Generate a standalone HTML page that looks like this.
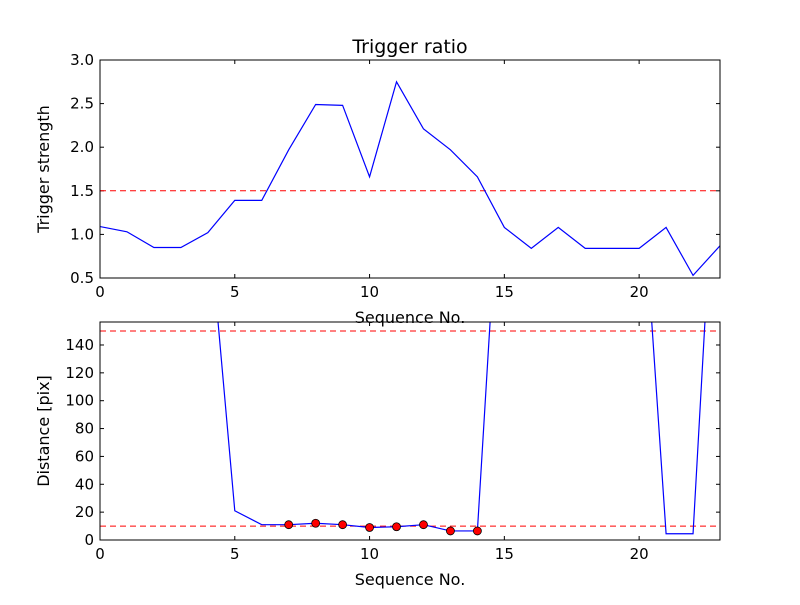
<!DOCTYPE html>
<html><head><meta charset="utf-8"><style>body{margin:0;background:#fff}svg{font-family:"DejaVu Sans","Liberation Sans",sans-serif}</style></head>
<body>
<svg id="chart" width="800" height="600" xmlns="http://www.w3.org/2000/svg">
<rect width="800" height="600" fill="#fff"/>
<defs>
<clipPath id="c1"><rect x="100" y="60" width="620" height="218"/></clipPath>
<clipPath id="c2"><rect x="100" y="322" width="620" height="218"/></clipPath>
</defs>
<g id="g"></g>
</svg>
<script>
const seq = [0,1,2,3,4,5,6,7,8,9,10,11,12,13,14,15,16,17,18,19,20,21,22,23];
const ratio = [1.09,1.03,0.85,0.85,1.02,1.39,1.39,1.97,2.49,2.48,1.66,2.75,2.21,1.97,1.66,1.08,0.84,1.08,0.84,0.84,0.84,1.08,0.53,0.87];
const dist = [400,400,400,400,239,21,11,11,12,11,9,9.5,11,6.5,6.5,325,300,300,300,300,290,4.5,4.5,349];
const hitIdx = [7,8,9,10,11,12,13,14];
const xTicks = [0,5,10,15,20];
const y1Ticks = [0.5,1.0,1.5,2.0,2.5,3.0];
const y2Ticks = [0,20,40,60,80,100,120,140];
const ratioThresh = 1.5;
const distThresh = [10,150];

const NS="http://www.w3.org/2000/svg";
const g=document.getElementById('g');
function el(t,a,p){const e=document.createElementNS(NS,t);for(const k in a)e.setAttribute(k,a[k]);(p||g).appendChild(e);return e;}
const L=100,R=720;
const sx=v=>L+(v-0)/(23-0)*(R-L);
function panel(top,bot,ymin,ymax,yt,fmt,name,ylabel){
  const sy=v=>bot-(v-ymin)/(ymax-ymin)*(bot-top);
  const ax=el('g',{});
  
  
  xTicks.forEach(t=>{const x=sx(t);
    el('line',{x1:x,x2:x,y1:bot,y2:bot-4,stroke:'#000'},ax);
    el('line',{x1:x,x2:x,y1:top,y2:top+4,stroke:'#000'},ax);
    const tx=el('text',{x:x,y:bot+19,'text-anchor':'middle','font-size':15},ax);tx.textContent=t;
    
  });
  yt.forEach(t=>{const y=sy(t);
    el('line',{x1:L,x2:L+4,y1:y,y2:y,stroke:'#000'},ax);
    el('line',{x1:R,x2:R-4,y1:y,y2:y,stroke:'#000'},ax);
    const tx=el('text',{x:L-6,y:y+5,'text-anchor':'end','font-size':15},ax);tx.textContent=fmt(t);
    
  });
  const xl=el('text',{x:410,y:bot+45,'text-anchor':'middle','font-size':16},ax);xl.textContent='Sequence No.';
  
  const yl=el('text',{x:0,y:0,'text-anchor':'middle','font-size':16,transform:`translate(${L-51},${(top+bot)/2}) rotate(-90)`},ax);yl.textContent=ylabel;
  
  return {sy,ax};
}
// top
const p1=panel(60,278,0.5,3.0,y1Ticks,v=>v.toFixed(1),'ratio-axes','Trigger strength');
const c1=el('g',{'clip-path':'url(#c1)'});
const th1=el('line',{x1:L,x2:R,y1:p1.sy(ratioThresh),y2:p1.sy(ratioThresh),stroke:'#f00','stroke-dasharray':'6,4'},c1);

const l1=el('polyline',{points:seq.map((s,i)=>sx(s)+','+p1.sy(ratio[i])).join(' '),fill:'none',stroke:'#00f','stroke-width':1.2},c1);

el('rect',{x:L,y:60,width:R-L,height:218,fill:'none',stroke:'#000'});
const t=el('text',{x:410,y:53,'text-anchor':'middle','font-size':19});t.textContent='Trigger ratio';

// bottom
const p2=panel(322,540,0,156.5,y2Ticks,v=>v,'distance-axes','Distance [pix]');
const c2=el('g',{'clip-path':'url(#c2)'});
distThresh.forEach(d=>{const e=el('line',{x1:L,x2:R,y1:p2.sy(d),y2:p2.sy(d),stroke:'#f00','stroke-dasharray':'6,4'},c2);
  });
const l2=el('polyline',{points:seq.map((s,i)=>sx(s)+','+p2.sy(dist[i])).join(' '),fill:'none',stroke:'#00f','stroke-width':1.2},c2);

hitIdx.forEach(i=>{const c=el('circle',{cx:sx(seq[i]),cy:p2.sy(dist[i]),r:4,fill:'#f00',stroke:'#000','stroke-width':0.8});
  });
el('rect',{x:L,y:322,width:R-L,height:218,fill:'none',stroke:'#000'});
</script>
</body></html>
